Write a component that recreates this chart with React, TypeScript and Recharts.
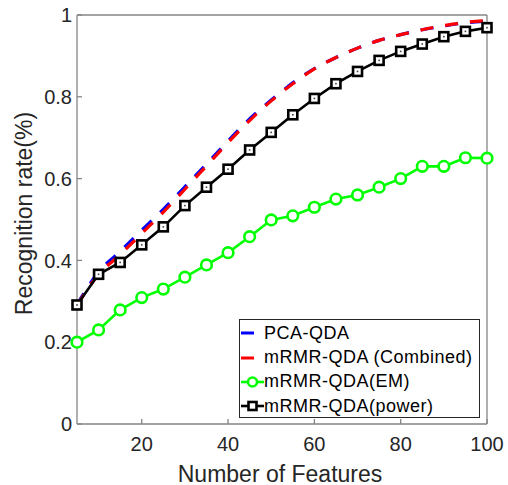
import { LineChart, Line, XAxis, YAxis, Legend } from "recharts";

const features = [5, 10, 15, 20, 25, 30, 35, 40, 45, 50, 55, 60, 65, 70, 75, 80, 85, 90, 95, 100];
const pcaQda = [0.292, 0.372, 0.422, 0.474, 0.525, 0.58, 0.636, 0.692, 0.746, 0.792, 0.834, 0.869, 0.896, 0.919, 0.938, 0.952, 0.964, 0.973, 0.981, 0.985];
const mrmrCombined = [0.29, 0.366, 0.414, 0.466, 0.518, 0.574, 0.631, 0.688, 0.742, 0.79, 0.832, 0.868, 0.896, 0.919, 0.938, 0.952, 0.964, 0.974, 0.982, 0.986];
const mrmrEM = [0.2, 0.23, 0.279, 0.309, 0.33, 0.359, 0.389, 0.419, 0.458, 0.499, 0.509, 0.53, 0.55, 0.56, 0.579, 0.6, 0.63, 0.63, 0.651, 0.65];
const mrmrPower = [0.291, 0.366, 0.395, 0.438, 0.482, 0.534, 0.579, 0.623, 0.67, 0.713, 0.756, 0.796, 0.832, 0.862, 0.889, 0.911, 0.929, 0.947, 0.96, 0.969];

const xTicks = [20, 40, 60, 80, 100];
const yTicks = [0, 0.2, 0.4, 0.6, 0.8, 1];

const data = features.map((f, i) => ({
  f,
  pca: pcaQda[i],
  comb: mrmrCombined[i],
  em: mrmrEM[i],
  power: mrmrPower[i],
}));

const font = '"Liberation Sans", Arial, sans-serif';
const axisGray = "#858585";
const textColor = "#262626";

function SquareDot(props: any) {
  const { cx, cy } = props;
  if (cx == null || cy == null) return null;
  return (
    <g>
      <rect x={cx - 4.5} y={cy - 4.5} width={9} height={9} fill="#fff" stroke="#000" strokeWidth={2.6} />
      <rect x={cx - 0.8} y={cy - 0.8} width={1.6} height={1.6} fill="#444" />
    </g>
  );
}

function CircleDot(props: any) {
  const { cx, cy } = props;
  if (cx == null || cy == null) return null;
  return <circle cx={cx} cy={cy} r={5.3} fill="#fff" stroke="#00ff00" strokeWidth={2.6} />;
}

const legendRows = [
  { name: "PCA-QDA", color: "#0000ff", kind: "dash" },
  { name: "mRMR-QDA (Combined)", color: "#ff0000", kind: "dash" },
  { name: "mRMR-QDA(EM)", color: "#00ff00", kind: "circle" },
  { name: "mRMR-QDA(power)", color: "#000000", kind: "square" },
];

function LegendBox() {
  return (
    <div
      style={{
        boxSizing: "border-box",
        width: 241,
        height: 99,
        border: "1px solid #262626",
        background: "#fff",
        paddingTop: 1,
        fontFamily: font,
        fontSize: 18,
        letterSpacing: 0.5,
        color: "#000",
        textAlign: "left",
      }}
    >
      {legendRows.map((r) => (
        <div key={r.name} style={{ height: 24.4, display: "flex", alignItems: "center" }}>
          <svg width={24} height={16} style={{ flex: "none" }}>
            {r.kind === "dash" ? (
              <line x1={1} y1={8} x2={14} y2={8} stroke={r.color} strokeWidth={3} />
            ) : (
              <g>
                <line x1={1} y1={8} x2={24} y2={8} stroke={r.color} strokeWidth={2.6} />
                {r.kind === "circle" ? (
                  <circle cx={12.5} cy={8} r={4.5} fill="#fff" stroke={r.color} strokeWidth={2.6} />
                ) : (
                  <rect x={8.5} y={4} width={8} height={8} fill="#fff" stroke={r.color} strokeWidth={2.6} />
                )}
              </g>
            )}
          </svg>
          <span style={{ whiteSpace: "nowrap" }}>{r.name}</span>
        </div>
      ))}
    </div>
  );
}

function XLabel(props: any) {
  const vb = props.viewBox;
  return (
    <text x={vb.x + vb.width / 2 - 2} y={481.5} textAnchor="middle" fontFamily={font} fontSize={23} fill={textColor}>
      Number of Features
    </text>
  );
}

function YLabel(props: any) {
  const vb = props.viewBox;
  const cy = vb.y + vb.height / 2 - 6;
  return (
    <text transform={`translate(32, ${cy}) rotate(-90)`} textAnchor="middle" fontFamily={font} fontSize={23} fill={textColor}>
      Recognition rate(%)
    </text>
  );
}

const tickStyle = { fontFamily: font, fontSize: 20, fill: textColor };

export default function App() {
  return (
    <div style={{ position: "absolute", left: 0, top: 0, background: "#fff" }}>
      <LineChart width={508} height={485} data={data} margin={{ top: 14, right: 20, bottom: 11, left: 0 }}>
        <XAxis
          dataKey="f"
          type="number"
          domain={[5, 100]}
          ticks={xTicks}
          height={50}
          tickSize={-5}
          tickMargin={18}
          tick={tickStyle}
          axisLine={{ stroke: axisGray, strokeWidth: 1.3 }}
          tickLine={{ stroke: axisGray, strokeWidth: 1.3 }}
          label={<XLabel />}
        />
        <XAxis
          xAxisId="top"
          dataKey="f"
          type="number"
          orientation="top"
          domain={[5, 100]}
          ticks={xTicks}
          height={1}
          tickSize={-5}
          tick={false}
          axisLine={{ stroke: axisGray, strokeWidth: 1.3 }}
          tickLine={{ stroke: axisGray, strokeWidth: 1.3 }}
        />
        <YAxis
          type="number"
          domain={[0, 1]}
          ticks={yTicks}
          width={77}
          tickSize={-5}
          tickMargin={10}
          tick={tickStyle}
          tickFormatter={(v: number) => String(v)}
          axisLine={{ stroke: axisGray, strokeWidth: 1.3 }}
          tickLine={{ stroke: axisGray, strokeWidth: 1.3 }}
          label={<YLabel />}
        />
        <YAxis
          yAxisId="right"
          orientation="right"
          type="number"
          domain={[0, 1]}
          ticks={yTicks}
          width={1}
          tickSize={-5}
          tick={false}
          axisLine={{ stroke: axisGray, strokeWidth: 1.3 }}
          tickLine={{ stroke: axisGray, strokeWidth: 1.3 }}
        />
        <Legend
          layout="horizontal"
          verticalAlign="middle"
          align="center"
          content={<LegendBox />}
          wrapperStyle={{ position: "absolute", left: 239, top: 319, width: 241, height: 99 }}
        />
        <Line
          dataKey="pca"
          name="PCA-QDA"
          type="monotone"
          stroke="#0000ff"
          strokeWidth={3.2}
          strokeDasharray="13 12"
          dot={false}
          activeDot={false}
          isAnimationActive={false}
        />
        <Line
          dataKey="comb"
          name="mRMR-QDA (Combined)"
          type="monotone"
          stroke="#ff0000"
          strokeWidth={3.2}
          strokeDasharray="13 12"
          dot={false}
          activeDot={false}
          isAnimationActive={false}
        />
        <Line
          dataKey="em"
          name="mRMR-QDA(EM)"
          type="linear"
          stroke="#00ff00"
          strokeWidth={2.6}
          dot={<CircleDot />}
          activeDot={false}
          isAnimationActive={false}
        />
        <Line
          dataKey="power"
          name="mRMR-QDA(power)"
          type="linear"
          stroke="#000000"
          strokeWidth={2.6}
          dot={<SquareDot />}
          activeDot={false}
          isAnimationActive={false}
        />
      </LineChart>
    </div>
  );
}
